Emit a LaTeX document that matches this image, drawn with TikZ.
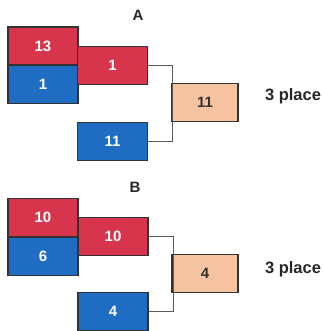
\documentclass[tikz,border=0pt]{standalone}
\usepackage{fontspec}
\setmainfont{Liberation Sans}
\usepackage{tikz}
\usepackage{xcolor}

\definecolor{redbox}{HTML}{D7354C}
\definecolor{bluebox}{HTML}{1F6CC3}
\definecolor{peachbox}{HTML}{F6C3A0}
\definecolor{edgegray}{HTML}{333333}

\tikzset{
    box/.style={rectangle, draw=edgegray, line width=1.8pt, minimum width=70pt, minimum height=38pt, inner sep=0pt, font=\fontsize{15}{17}\selectfont\bfseries},
    redb/.style={box, fill=redbox, text=white},
    blueb/.style={box, fill=bluebox, text=white},
    peachb/.style={box, minimum width=66pt, fill=peachbox, text=black!80},
    title/.style={font=\fontsize{15}{17}\selectfont\bfseries, text=black!85},
    place/.style={font=\fontsize{16.5}{18}\selectfont\bfseries, text=black!85},
    link/.style={draw=gray!70!black, line width=0.8pt}
}

\begin{document}
\begin{tikzpicture}[x=1pt, y=-1pt]
        \useasboundingbox (0,0) rectangle (322,331);

        % Nodes (A)
        \node[title] (ta) at (138, 15) {A};
        \node[redb] (a13) at (43, 46) {13};
        \node[blueb] (a1) at (43, 84.5) {1};
        \node[redb] (aw) at (112.5, 65.5) {1};
        \node[blueb] (a11) at (112.5, 141.5) {11};
        \node[peachb] (ares) at (205, 102.5) {11};
        \node[place] (pa) at (293, 96) {3 place};

        % Nodes (B)
        \node[title] (tb) at (135, 187) {B};
        \node[redb] (b10) at (43, 217.5) {10};
        \node[blueb] (b6) at (43, 256.5) {6};
        \node[redb] (bw) at (113, 236.5) {10};
        \node[blueb] (b4) at (113, 311.5) {4};
        \node[peachb] (bres) at (205, 273.5) {4};
        \node[place] (pb) at (293, 269) {3 place};

        % Lines
        \draw[link] (aw.east) -- ++(24, 0) |- (a11.east);
        \draw[link] (bw.east) -- ++(24, 0) |- (b4.east);
    \end{tikzpicture}
\end{document}
